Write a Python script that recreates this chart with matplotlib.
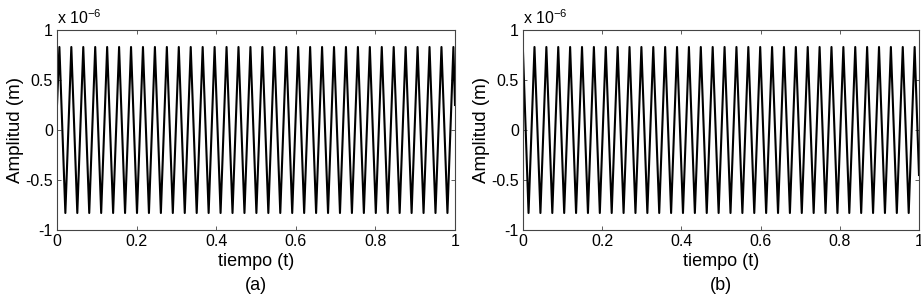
import matplotlib
matplotlib.use("Agg")
import matplotlib.pyplot as plt

# data (amplitude in units of 1e-6 m), times of peaks / troughs
a_start = (0.0, 0.25)
a_end = (1.0, 0.25)
a_peak_t = [0.006, 0.036, 0.066, 0.096, 0.126, 0.156, 0.186, 0.216, 0.246, 0.276,
            0.306, 0.336, 0.366, 0.396, 0.426, 0.456, 0.486, 0.516, 0.546, 0.576,
            0.606, 0.636, 0.666, 0.696, 0.726, 0.756, 0.786, 0.816, 0.846, 0.876,
            0.906, 0.936, 0.966, 0.996]
a_trough_t = [0.021, 0.051, 0.081, 0.111, 0.141, 0.171, 0.201, 0.231, 0.261, 0.291,
              0.321, 0.351, 0.381, 0.411, 0.441, 0.471, 0.501, 0.531, 0.561, 0.591,
              0.621, 0.651, 0.681, 0.711, 0.741, 0.771, 0.801, 0.831, 0.861, 0.891,
              0.921, 0.951, 0.981]
a_peak_val = 0.83
a_trough_val = -0.83

b_start = (0.0, 0.78)
b_end = (1.0, -0.45)
b_peak_t = [0.029, 0.059, 0.089, 0.119, 0.149, 0.179, 0.209, 0.239, 0.269, 0.299,
            0.329, 0.359, 0.389, 0.419, 0.449, 0.479, 0.509, 0.539, 0.569, 0.599,
            0.629, 0.659, 0.689, 0.719, 0.749, 0.779, 0.809, 0.839, 0.869, 0.899,
            0.929, 0.959, 0.989]
b_trough_t = [0.014, 0.044, 0.074, 0.104, 0.134, 0.164, 0.194, 0.224, 0.254, 0.284,
              0.314, 0.344, 0.374, 0.404, 0.434, 0.464, 0.494, 0.524, 0.554, 0.584,
              0.614, 0.644, 0.674, 0.704, 0.734, 0.764, 0.794, 0.824, 0.854, 0.884,
              0.914, 0.944, 0.974]
b_peak_val = 0.83
b_trough_val = -0.83

xticks = [0, 0.2, 0.4, 0.6, 0.8, 1]
xticklabels = ["0", "0.2", "0.4", "0.6", "0.8", "1"]
yticks = [-1, -0.5, 0, 0.5, 1]
yticklabels = ["-1", "-0.5", "0", "0.5", "1"]
panel_tags = ["(a)", "(b)"]

# style
plt.rcParams['font.family'] = ['Liberation Sans', 'DejaVu Sans']
plt.rcParams['axes.unicode_minus'] = False
FS = 11.5
FL = 13.5


def series(start, end, pt, pv, tt, tv):
    pts = [start] + [(t, pv) for t in pt] + [(t, tv) for t in tt] + [end]
    pts.sort()
    return [p[0] for p in pts], [p[1] for p in pts]


fig = plt.figure(figsize=(9.21, 3.0), dpi=100)
ax0 = fig.add_axes([57/921, 1-230/300, (455-57)/921, 200/300])
ax1 = fig.add_axes([523/921, 1-230/300, (919-523)/921, 200/300])

sets = [(a_start, a_end, a_peak_t, a_peak_val, a_trough_t, a_trough_val),
        (b_start, b_end, b_peak_t, b_peak_val, b_trough_t, b_trough_val)]

for ax, s, tag in zip([ax0, ax1], sets, panel_tags):
    x, y = series(*s)
    ax.plot(x, y, color='k', lw=1.5)
    ax.set_xlim(0, 1); ax.set_ylim(-1, 1)
    ax.set_xticks(xticks); ax.set_xticklabels(xticklabels, fontsize=FS)
    ax.set_yticks(yticks); ax.set_yticklabels(yticklabels, fontsize=FS)
    ax.tick_params(direction='in', top=True, right=True, length=3, width=0.6, color='#444444', pad=3)
    for sp in ax.spines.values():
        sp.set_linewidth(0.8); sp.set_color('#444444')
    ax.set_ylabel('Amplitud (m)', fontsize=FL, labelpad=1)
    cx = ax.get_position().x0 + ax.get_position().width/2
    fig.text(cx, 1-262/300, 'tiempo (t)', ha='center', va='center', fontsize=FL-0.5)
    fig.text(cx, 1-286/300, tag, ha='center', va='center', fontsize=FL-0.5)
    ax.text(0.0, 1.015, r'x 10$^{\mathregular{-6}}$', transform=ax.transAxes, ha='left', va='bottom', fontsize=FS)

fig.savefig('out.png', dpi=100)
